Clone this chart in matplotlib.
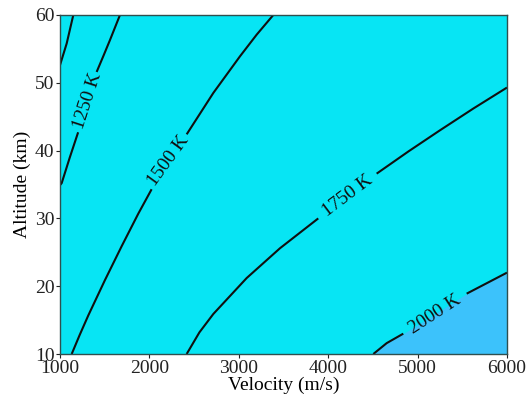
import numpy as np
import matplotlib
matplotlib.use("Agg")
from matplotlib import pyplot as plt

# contour lines: velocity (m/s) -> altitude (km)
# nan marks the gap left for the inline label
levels = [1000, 1250, 1500, 1750, 2000]

v_1000 = [1000, 1075, 1149]
h_1000 = [52.6, 55.8, 60.0]

v_1250 = [1000, 1019, 1110, 1203, np.nan, 1410, 1490, 1559, 1671]
h_1250 = [34.9, 35.2, 39.0, 42.7, np.nan, 51.6, 54.1, 56.3, 60.0]

v_1500 = [1131, 1220, 1317, 1503, 1690, 1876, 2025, np.nan, 2417, 2715, 3013, 3200, 3386]
h_1500 = [10.0, 12.8, 15.7, 20.9, 25.9, 30.7, 34.3, np.nan, 42.4, 48.5, 53.9, 57.1, 60.0]

v_1750 = [2417, 2560, 2715, 3088, 3461, 3889, np.nan, 4542, 4900, 5251, 5623, 6000]
h_1750 = [10.0, 13.2, 15.9, 21.2, 25.6, 30.0, np.nan, 36.6, 39.9, 43.0, 46.2, 49.3]

v_2000 = [4505, 4654, 4840, np.nan, 5549, 6000]
h_2000 = [10.0, 11.6, 13.0, np.nan, 18.9, 22.0]

# full 2000 K boundary for the filled region
v_2000_fill = [4505, 4654, 4840, 5183, 5549, 6000]
h_2000_fill = [10.0, 11.6, 13.0, 15.8, 18.9, 22.0]

# label positions (velocity, altitude) and screen angle
label_v = [1308, 2215, 4220, 5190]
label_h = [47.3, 38.5, 33.3, 15.9]
label_rot = [72, 54, 37, 33]
label_text = ["1250 K", "1500 K", "1750 K", "2000 K"]

plt.rcParams["font.family"] = ["Liberation Serif", "DejaVu Serif"]


def main():
    fig = plt.figure(figsize=(5.28, 4.01), dpi=100)
    ax = fig.add_axes([0.1136, 0.1172, 0.8466, 0.8454])

    cyan = "#07e5f4"
    blue = "#3cc2fb"
    ax.set_facecolor(cyan)
    ax.fill_between(v_2000_fill, h_2000_fill, 10, color=blue, lw=0)

    lines = [(v_1000, h_1000), (v_1250, h_1250), (v_1500, h_1500),
             (v_1750, h_1750), (v_2000, h_2000)]
    for v, h in lines:
        ax.plot(v, h, color="#101010", lw=1.5, solid_capstyle="butt",
                solid_joinstyle="round")

    for x, y, r, t in zip(label_v, label_h, label_rot, label_text):
        ax.text(x, y, t, rotation=r, ha="center", va="center",
                rotation_mode="anchor", fontsize=14, color="#101010")

    ax.set_xlim(1000, 6000)
    ax.set_ylim(10, 60)
    ax.set_xticks([1000, 2000, 3000, 4000, 5000, 6000])
    ax.set_yticks([10, 20, 30, 40, 50, 60])
    ax.tick_params(direction="out", length=3, width=0.8, labelsize=14,
                   colors="#222222", pad=1)
    for s in ax.spines.values():
        s.set_color("#2f4f4f")
        s.set_linewidth(1.0)

    ax.set_xlabel("Velocity (m/s)", fontsize=14, labelpad=0)
    ax.set_ylabel("Altitude (km)", fontsize=14, labelpad=3)

    fig.savefig("out.png", dpi=100)


if __name__ == "__main__":
    main()
